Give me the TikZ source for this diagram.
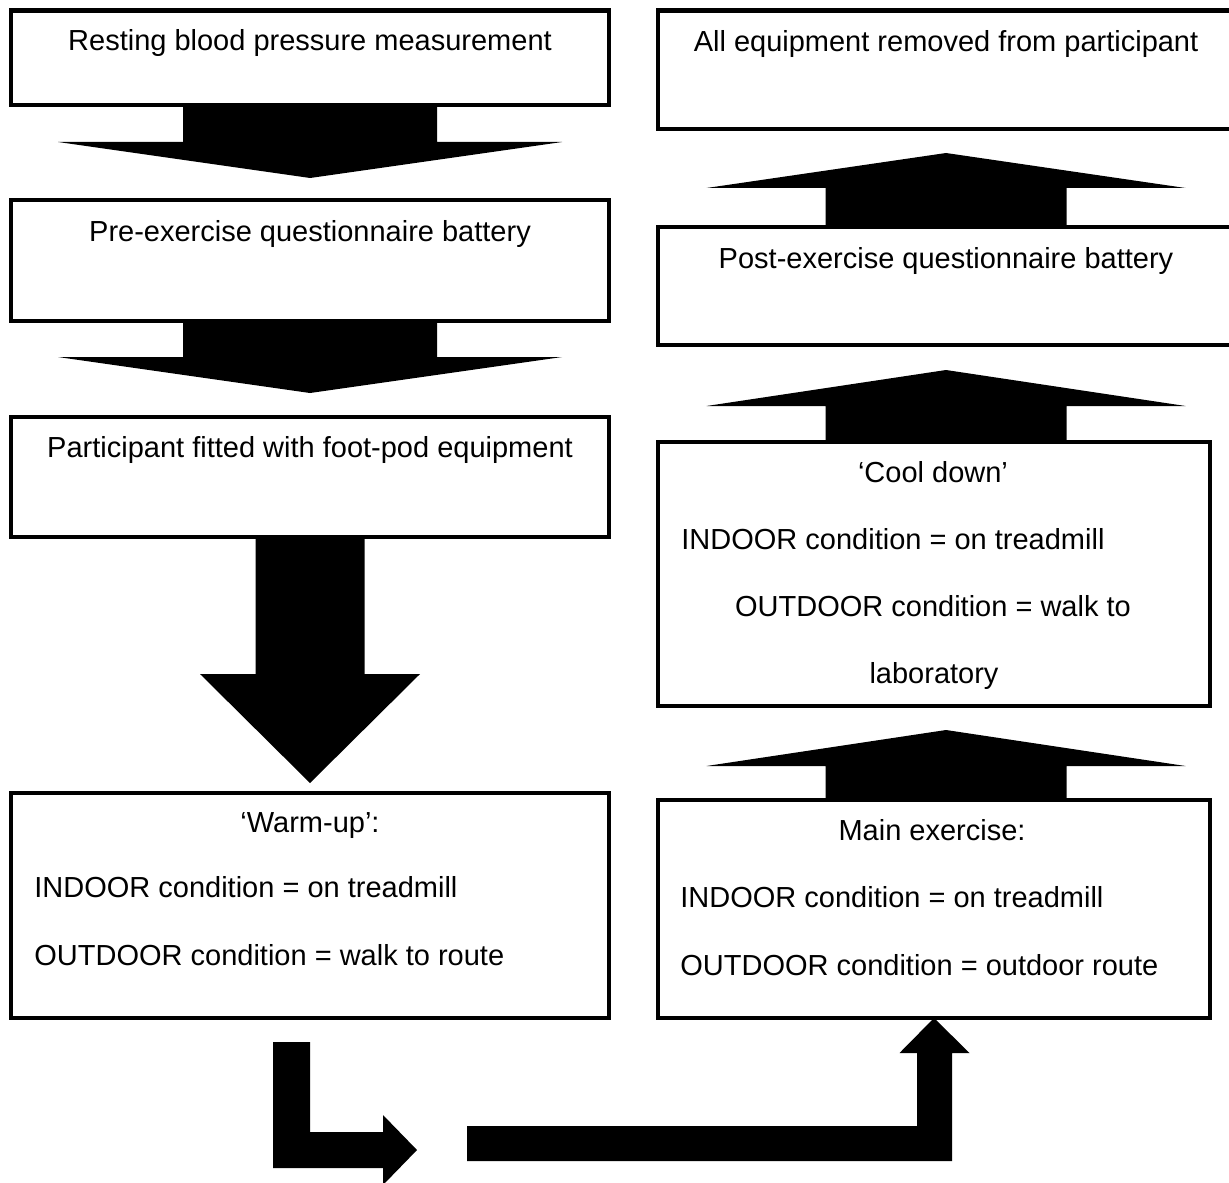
\documentclass[tikz,border=0pt]{standalone}
\usepackage{fontspec}
\setmainfont{Liberation Sans}
\begin{document}
\begin{tikzpicture}[x=0.5pt,y=-0.5pt,
    stage/.style={draw, line width=2.25pt, inner sep=0pt, outer sep=0pt, anchor=north west},
    label text/.style={font=\fontsize{14.5}{17}\selectfont, inner sep=0pt, anchor=base}]
    \useasboundingbox (0,0) rectangle (1229,1182);
    % boxes
    \begin{scope}[every node/.style={stage}]
        \node[minimum width=299pt, minimum height=47.25pt] (rest) at (11,10.5) {};
        \node[minimum width=299pt, minimum height=60.5pt] (preq) at (11,200) {};
        \node[minimum width=299pt, minimum height=60pt] (fit) at (11,417) {};
        \node[minimum width=299pt, minimum height=112.5pt] (warm) at (11,793) {};
        \node[minimum width=288pt, minimum height=59.25pt] (removed) at (658,10.5) {};
        \node[minimum width=288pt, minimum height=59pt] (postq) at (658,227) {};
        \node[minimum width=276pt, minimum height=132pt] (cool) at (658,442) {};
        \node[minimum width=276pt, minimum height=109pt] (main) at (658,800) {};
    \end{scope}
    % texts
    \begin{scope}[every node/.style={label text}]
        \node (resttext) at (310,51) {Resting blood pressure measurement};
        \node (preqtext) at (310,241) {Pre-exercise questionnaire battery};
        \node (fittext) at (310,457) {Participant fitted with foot-pod equipment};
        \node (warmtitle) at (310,832) {‘Warm-up’:};
        \node[anchor=base west] (warmin) at (34,897) {INDOOR condition = on treadmill};
        \node[anchor=base west] (warmout) at (34,965) {OUTDOOR condition = walk to route};
        \node (removedtext) at (946,52) {All equipment removed from participant};
        \node (postqtext) at (946,268) {Post-exercise questionnaire battery};
        \node (cooltitle) at (933,482) {‘Cool down’};
        \node[anchor=base west] (coolin) at (681,549) {INDOOR condition = on treadmill};
        \node (coolout) at (933,616) {OUTDOOR condition = walk to};
        \node (coollab) at (934,683) {laboratory};
        \node (maintitle) at (932,840) {Main exercise:};
        \node[anchor=base west] (mainin) at (680,907) {INDOOR condition = on treadmill};
        \node[anchor=base west] (mainout) at (680,975) {OUTDOOR condition = outdoor route};
    \end{scope}
    % block arrows
    \fill (rest.south) ++(-127,0) -- ++(254,0) -- ++(0,37) -- ++(125,0) -- ++(-252,36) -- ++(-252,-36) -- ++(125,0) -- cycle;
    \fill (preq.south) ++(-127,0) -- ++(254,0) -- ++(0,36) -- ++(125,0) -- ++(-252,36) -- ++(-252,-36) -- ++(125,0) -- cycle;
    \fill (fit.south) ++(-54.5,0) -- ++(109,0) -- ++(0,137) -- ++(55.5,0) -- ++(-110,109) -- ++(-110,-109) -- ++(55.5,0) -- cycle;
    \fill (warm.south) ++(-37,24) -- ++(37,0) -- ++(0,90) -- ++(73,0) -- ++(0,-17) -- ++(34,35) -- ++(-34,35) -- ++(0,-17) -- ++(-110,0) -- cycle;
    \fill (main.south) -- ++(35.5,35) -- ++(-17.5,0) -- ++(0,108) -- ++(-485,0) -- ++(0,-35) -- ++(450,0) -- ++(0,-73) -- ++(-17.5,0) -- cycle;
    \fill (main.north -| postq.south) ++(-120.5,0) -- ++(0,-34) -- ++(-119,0) -- ++(239.5,-36) -- ++(239.5,36) -- ++(-119,0) -- ++(0,34) -- cycle;
    \fill (cool.north -| postq.south) ++(-120.5,0) -- ++(0,-36) -- ++(-119,0) -- ++(239.5,-36) -- ++(239.5,36) -- ++(-119,0) -- ++(0,36) -- cycle;
    \fill (postq.north) ++(-120.5,0) -- ++(0,-39) -- ++(-119,0) -- ++(239.5,-35) -- ++(239.5,35) -- ++(-119,0) -- ++(0,39) -- cycle;
\end{tikzpicture}
\end{document}
